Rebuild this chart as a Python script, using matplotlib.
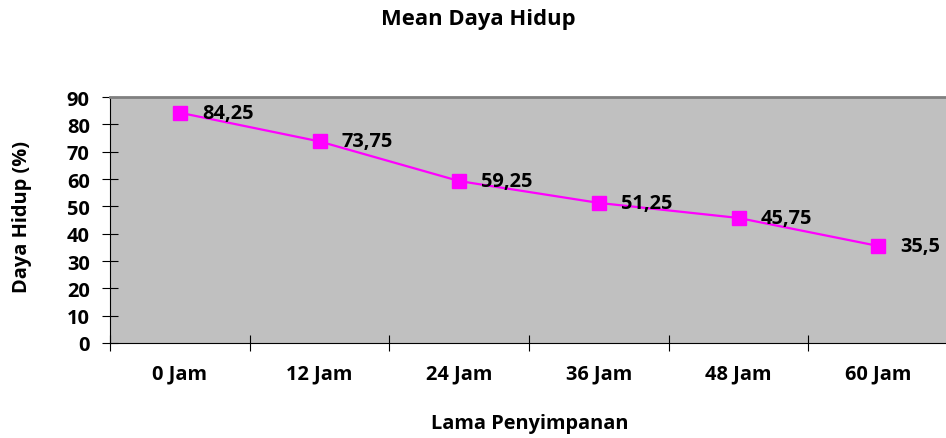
import matplotlib.pyplot as plt
import numpy as np

categories = ["0 Jam", "12 Jam", "24 Jam", "36 Jam", "48 Jam", "60 Jam"]
values = [84.25, 73.75, 59.25, 51.25, 45.75, 35.5]
value_labels = ["84,25", "73,75", "59,25", "51,25", "45,75", "35,5"]

plt.rcParams['font.family'] = ['Open Sans', 'DejaVu Sans']
plt.rcParams['font.weight'] = 'bold'
FS = 14.4

fig = plt.figure(figsize=(9.46, 4.39), dpi=100)
ax = fig.add_axes([110 / 946, 1 - 344 / 439, 838 / 946, 246 / 439])
ax.set_facecolor('#c0c0c0')

xs = np.arange(len(categories))
ax.plot(xs, values, color='#ff00ff', lw=1.6, marker='s', markersize=10,
        markeredgecolor='#ff00ff', clip_on=False, zorder=3)
for x, v, lab in zip(xs, values, value_labels):
    ax.annotate(lab, (x, v), xytext=(16, 0), textcoords='offset points',
                ha='left', va='center', fontsize=FS, fontweight='bold',
                annotation_clip=False)

ax.set_xlim(-0.5, len(categories) - 0.5)
ax.set_ylim(0, 90)
ax.set_yticks(range(0, 91, 10))
ax.set_xticks(xs)
ax.set_xticklabels(categories)
ax.set_xticks(np.arange(-0.5, len(categories)), minor=True)
ax.tick_params(axis='x', which='major', length=0, pad=15, labelsize=FS)
ax.tick_params(axis='x', which='minor', direction='inout', length=11, width=0.8)
ax.tick_params(axis='y', direction='inout', length=11, width=0.8, pad=9,
               labelsize=FS)
for t in ax.get_xticklabels() + ax.get_yticklabels():
    t.set_fontweight('bold')

ax.spines['top'].set_color('#808080')
ax.spines['top'].set_linewidth(2)
ax.spines['right'].set_visible(False)
ax.spines['left'].set_color('black')
ax.spines['bottom'].set_color('black')

fig.text(478 / 946, 1 - 19 / 439, "Mean Daya Hidup", ha='center', va='center',
         fontsize=15.8, fontweight='bold')
fig.text(530 / 946, 1 - 424 / 439, "Lama Penyimpanan", ha='center', va='center',
         fontsize=FS, fontweight='bold')
fig.text(22 / 946, 1 - 217 / 439, "Daya Hidup (%)", ha='center', va='center',
         rotation=90, fontsize=FS, fontweight='bold')

fig.savefig('out.png', dpi=100)
